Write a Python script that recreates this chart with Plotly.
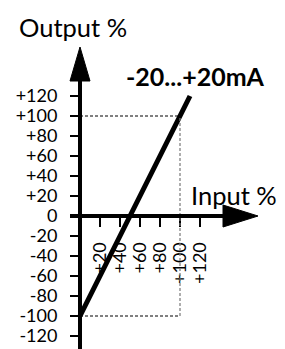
import plotly.graph_objects as go

# ---- data ----
line_x = [0, 110]
line_y = [-100, 120]
y_ticks = [120, 100, 80, 60, 40, 20, 0, -20, -40, -60, -80, -100, -120]
y_tick_labels = ["+120", "+100", "+80", "+60", "+40", "+20", "0",
                 "-20", "-40", "-60", "-80", "-100", "-120"]
x_ticks = [20, 40, 60, 80, 100, 120]
x_tick_labels = ["+20", "+40", "+60", "+80", "+100", "+120"]
input_span = [0, 100]
output_span = [-100, 100]
title_text = "-20...+20mA"
x_title = "Input %"
y_title = "Output %"

# page has an 8px body margin; figure fills the rest of the 285x349 window
W, H = 277, 341
X_RANGE = [-72, 205]
Y_RANGE = [-133, 208]
FONT = "Lato"

fig = go.Figure()
fig.add_trace(go.Scatter(x=line_x, y=line_y, mode="lines",
                         line=dict(color="black", width=5), hoverinfo="skip",
                         showlegend=False))

shapes = []
# guide lines
shapes.append(dict(type="line", xref="x", yref="y", x0=input_span[0], x1=input_span[1],
                   y0=output_span[1], y1=output_span[1],
                   line=dict(color="black", width=1, dash="3px,2px")))
shapes.append(dict(type="line", xref="x", yref="y", x0=input_span[0], x1=input_span[1],
                   y0=output_span[0], y1=output_span[0],
                   line=dict(color="black", width=1, dash="3px,2px")))
shapes.append(dict(type="line", xref="x", yref="y", x0=input_span[1], x1=input_span[1],
                   y0=output_span[0], y1=output_span[1],
                   line=dict(color="#777777", width=1.2, dash="3px,2px")))
# axis lines with arrows
shapes.append(dict(type="line", xref="x", yref="y", x0=-10, x1=145, y0=0, y1=0,
                   line=dict(color="black", width=4)))
shapes.append(dict(type="path", xref="x", yref="y", path="M 143,11 L 178,0 L 143,-11 Z",
                   fillcolor="black", line=dict(color="black", width=1)))
shapes.append(dict(type="line", xref="x", yref="y", x0=0, x1=0, y0=Y_RANGE[0], y1=137,
                   line=dict(color="black", width=4)))
shapes.append(dict(type="path", xref="x", yref="y", path="M -10,135 L 0,169 L 10,135 Z",
                   fillcolor="black", line=dict(color="black", width=1)))

annotations = [
    dict(text=y_title, x=-7.5, y=189, xref="x", yref="y", showarrow=False,
         xanchor="center", yanchor="middle", font=dict(family=FONT, size=25.5, color="black")),
    dict(text=x_title, x=154, y=21, xref="x", yref="y", showarrow=False,
         xanchor="center", yanchor="middle", font=dict(family=FONT, size=25.5, color="black")),
    dict(text="<b>" + title_text + "</b>", x=115, y=140, xref="x", yref="y", showarrow=False,
         xanchor="center", yanchor="middle", font=dict(family=FONT, size=25, color="black")),
]

fig.update_layout(
    width=W, height=H,
    margin=dict(l=0, r=0, t=0, b=0, autoexpand=False),
    paper_bgcolor="white", plot_bgcolor="white",
    showlegend=False,
    shapes=shapes, annotations=annotations,
    xaxis=dict(range=X_RANGE, anchor="free", position=133 / 341,
               showgrid=False, zeroline=False, showline=False,
               tickmode="array", tickvals=x_ticks, ticktext=x_tick_labels,
               ticks="outside", ticklen=10, tickwidth=2, tickcolor="black",
               tickangle=-90, ticklabelstandoff=8,
               tickfont=dict(family=FONT, size=18, color="black"),
               fixedrange=True),
    yaxis=dict(range=Y_RANGE, anchor="free", position=72 / 277,
               showgrid=False, zeroline=False, showline=False,
               tickmode="array", tickvals=y_ticks, ticktext=y_tick_labels,
               ticks="outside", ticklen=10, tickwidth=2, tickcolor="black",
               ticklabelstandoff=9,
               tickfont=dict(family=FONT, size=18, color="black"),
               fixedrange=True),
)

fig.write_html("out.html", config=dict(displayModeBar=False))
